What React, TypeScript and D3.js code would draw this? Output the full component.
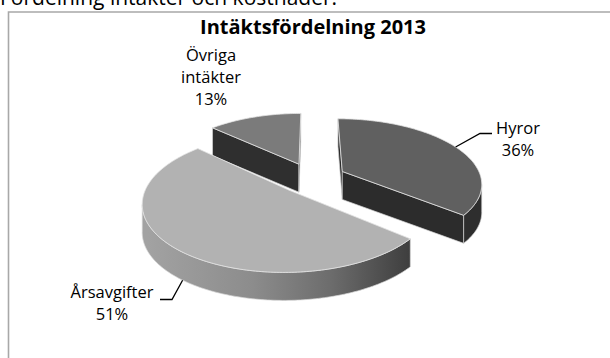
import React from "react";
import * as d3 from "d3";

const categories = ["Hyror", "Årsavgifter", "Övriga intäkter"];
const values = [36, 51, 13];
const labelNames = [["Hyror"], ["Årsavgifter"], ["Övriga", "intäkter"]];
const title = "Intäktsfördelning 2013";
const heading = "Fördelning intäkter och kostnader:";

const W = 610;
const H = 358;
// projection parameters
const CX = 312, CY = 178, S = 139, K = 63.7, C = 0.17, T = 28, E = 0.245;

const topColors = ["#606060", "#b2b2b2", "#7b7b7b"];
const wallColors = ["#2c2c2c", "#7a7a7a", "#2f2f2f"];
const sideFills = ["#2e2e2e", "url(#sideGrad)", "#3a3a3a"];

// label layout: anchor x, first baseline, leader [angle offset, depth, elbow points]
const labelPos = [
  { x: 518, y: 134, leader: { da: 0, d: 0, ex: 480, hx: 492, hy: 133.5 } },
  { x: 112, y: 298, leader: { da: -0.06, d: 1, ex: 172, hx: 160, hy: 299.5 } },
  { x: 211, y: 61, leader: null as any },
];

function proj(x: number, z: number, d: number): [number, number] {
  const w = 1 + C * z;
  return [CX + (S * x) / w, CY - (K * z) / w + T * d];
}

function area(pts: [number, number][]) {
  let s = 0;
  for (let i = 0; i < pts.length; i++) {
    const a = pts[i], b = pts[(i + 1) % pts.length];
    s += a[0] * b[1] - b[0] * a[1];
  }
  return s / 2;
}

const poly = (pts: [number, number][]) =>
  "M" + pts.map((p) => p[0].toFixed(2) + "," + p[1].toFixed(2)).join("L") + "Z";

export default function App() {
  const arcs = d3.pie<number>().sort(null).startAngle(0).endAngle(2 * Math.PI)(values);

  const slices = arcs.map((a, i) => {
    const mid = (a.startAngle + a.endAngle) / 2;
    const ox = E * Math.sin(mid), oz = E * Math.cos(mid);
    const rim = (t: number, d: number) => proj(ox + Math.sin(t), oz + Math.cos(t), d);
    const cen = (d: number) => proj(ox, oz, d);
    const n = Math.max(8, Math.ceil(((a.endAngle - a.startAngle) * 180) / Math.PI));
    const ts = d3.range(n + 1).map((k) => a.startAngle + ((a.endAngle - a.startAngle) * k) / n);
    const top = poly([cen(0), ...ts.map((t) => rim(t, 0))]);
    // visible side: where rim X decreases as angle increases
    const vis: number[] = [];
    const fine = d3.range(0, 721).map((k) => a.startAngle + ((a.endAngle - a.startAngle) * k) / 720);
    fine.forEach((t) => {
      const h = 1e-4;
      const dx = rim(t + h, 0)[0] - rim(t - h, 0)[0];
      if (dx < 0) vis.push(t);
    });
    let side: string | null = null;
    if (vis.length > 2) {
      const s0 = vis[0], s1 = vis[vis.length - 1];
      const m = Math.max(4, Math.ceil(((s1 - s0) * 180) / Math.PI));
      const ss = d3.range(m + 1).map((k) => s0 + ((s1 - s0) * k) / m);
      side = poly([...ss.map((t) => rim(t, 0)), ...ss.slice().reverse().map((t) => rim(t, 1))]);
    }
    const walls: string[] = [];
    const w0: [number, number][] = [cen(0), rim(a.startAngle, 0), rim(a.startAngle, 1), cen(1)];
    const w1: [number, number][] = [cen(0), rim(a.endAngle, 0), rim(a.endAngle, 1), cen(1)];
    if (area(w0) < -0.5) walls.push(poly(w0));
    if (area(w1) > 0.5) walls.push(poly(w1));
    const lp = labelPos[i];
    let leader: string | null = null;
    if (lp.leader) {
      const p = rim(mid + lp.leader.da, lp.leader.d);
      leader = `M${lp.leader.hx},${lp.leader.hy}L${lp.leader.ex},${lp.leader.hy}L${p[0].toFixed(1)},${p[1].toFixed(1)}`;
    }
    return { i, oz, top, side, walls, leader };
  });

  const order = slices.slice().sort((a, b) => b.oz - a.oz);
  const font = "'Open Sans', 'Noto Sans', sans-serif";

  return (
    <svg width={W} height={H} style={{ position: "absolute", left: 0, top: 0, background: "#fff" }}>
      <defs>
        <linearGradient id="sideGrad" gradientUnits="userSpaceOnUse" x1={148} x2={410} y1={0} y2={0}>
          <stop offset="0" stopColor="#a2a2a2" />
          <stop offset="0.4" stopColor="#8c8c8c" />
          <stop offset="0.7" stopColor="#6c6c6c" />
          <stop offset="1" stopColor="#3e3e3e" />
        </linearGradient>
      </defs>
      <rect x={0} y={0} width={W} height={H} fill="#fff" />
      <text x={0} y={5} fontFamily={font} fontSize={21} fill="#000">{heading}</text>
      <path d={`M8.5,${H}L8.5,12L${W},12`} fill="none" stroke="#a8a8a8" strokeWidth={1.6} />
      <text x={313} y={34} textAnchor="middle" fontFamily={font} fontWeight="bold" fontSize={20} fill="#000">
        {title}
      </text>
      {order.map((s) => (
        <g key={categories[s.i]}>
          {s.walls.map((w, k) => (
            <path key={k} d={w} fill={wallColors[s.i]} stroke="#d6d6d6" strokeWidth={0.7} strokeLinejoin="round" />
          ))}
          {s.side && <path d={s.side} fill={sideFills[s.i]} stroke="#d6d6d6" strokeWidth={0.7} strokeLinejoin="round" />}
          <path d={s.top} fill={topColors[s.i]} stroke="#e4e4e4" strokeWidth={0.8} strokeLinejoin="round" />
        </g>
      ))}
      {slices.map((s) => {
        const lp = labelPos[s.i];
        const lines = [...labelNames[s.i], `${values[s.i]}%`];
        return (
          <g key={"l" + s.i}>
            {s.leader && <path d={s.leader} fill="none" stroke="#000" strokeWidth={1.3} />}
            <text textAnchor="middle" fontFamily={font} fontSize={16.5} fill="#000">
              {lines.map((l, k) => (
                <tspan key={k} x={lp.x} y={lp.y + k * 22}>{l}</tspan>
              ))}
            </text>
          </g>
        );
      })}
    </svg>
  );
}
